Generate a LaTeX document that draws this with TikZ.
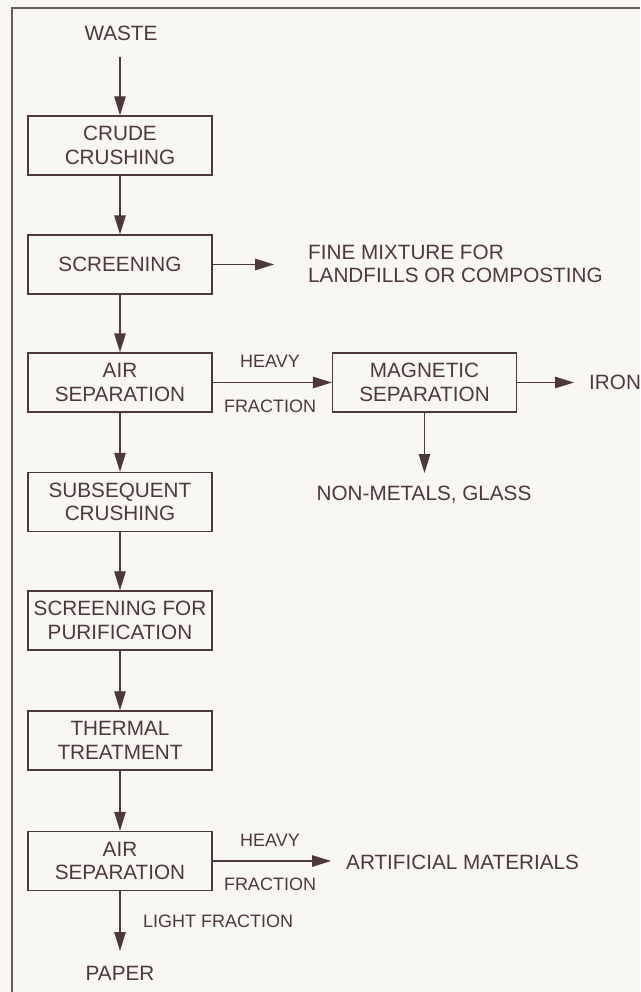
\documentclass[tikz,border=0pt]{standalone}
\usepackage{fontspec}
\setmainfont{Liberation Sans}
\usetikzlibrary{arrows.meta}
\definecolor{ink}{RGB}{78,56,62}
\definecolor{framec}{RGB}{105,92,96}
\definecolor{paperbg}{RGB}{248,247,243}
\begin{document}
\begin{tikzpicture}[x=1pt,y=-1pt,
  every node/.style={text=ink},
  box/.style={draw=ink, line width=1.3pt, minimum width=184pt, minimum height=59pt, align=center, inner sep=0pt, font=\fontsize{20.7}{23.5}\selectfont},
  lbl/.style={font=\fontsize{20.7}{23}\selectfont, align=left, inner sep=0pt},
  sml/.style={font=\fontsize{18}{20}\selectfont, inner sep=0pt},
  flow/.style={draw=ink, line width=1.15pt, -{Triangle[length=19pt,width=11.5pt]}},
]
\fill[paperbg] (0,0) rectangle (640,992);
\useasboundingbox (0,0) rectangle (640,992);
\draw[framec, line width=1.4pt] (12,992) -- (12,8) -- (640,8);

\node[lbl] (waste) at (121,33) {WASTE};
\coordinate (wastestart) at (120,57);
\node[box] (b1) at (120,145.5) {CRUDE\\CRUSHING};
\node[box] (b2) at (120,264.5) {SCREENING};
\node[box] (b3) at (120,382.5) {AIR\\SEPARATION};
\node[box] (mag) at (424.5,382.5) {MAGNETIC\\SEPARATION};
\node[box] (b4) at (120,502) {SUBSEQUENT\\CRUSHING};
\node[box] (b5) at (120,620.5) {SCREENING FOR\\PURIFICATION};
\node[box] (b6) at (120,740.5) {THERMAL\\TREATMENT};
\node[box] (b7) at (120,861) {AIR\\SEPARATION};

\node[lbl, anchor=west] (fine) at (308,264) {FINE MIXTURE FOR\\LANDFILLS OR COMPOSTING};
\coordinate (fineend) at (274,264.5);
\node[lbl, anchor=west] (iron) at (589,382.5) {IRON};
\coordinate (ironend) at (574,382.5);
\node[lbl] (nonmet) at (424,495) {NON-METALS, GLASS};
\coordinate (nonmetend) at (424.5,473);
\node[sml] (heavy1) at (270,361) {HEAVY};
\node[sml] (frac1) at (270,406) {FRACTION};
\node[lbl, anchor=west] (artif) at (346,862) {ARTIFICIAL MATERIALS};
\coordinate (artifend) at (331,861);
\node[sml] (heavy2) at (270,840) {HEAVY};
\node[sml] (frac2) at (270,884) {FRACTION};
\node[sml, anchor=west] (light) at (143,921) {LIGHT FRACTION};
\node[lbl] (paper) at (120,973) {PAPER};
\coordinate (paperend) at (120,951);

\draw[flow] (wastestart) -- (b1.north);
\draw[flow] (b1) -- (b2);
\draw[flow] (b2.east) -- (fineend);
\draw[flow] (b2) -- (b3);
\draw[flow] (b3) -- (mag);
\draw[flow] (mag.east) -- (ironend);
\draw[flow] (mag.south) -- (nonmetend);
\draw[flow] (b3) -- (b4);
\draw[flow] (b4) -- (b5);
\draw[flow] (b5) -- (b6);
\draw[flow] (b6) -- (b7);
\draw[flow] (b7.east) -- (artifend);
\draw[flow] (b7.south) -- (paperend);
\end{tikzpicture}
\end{document}
